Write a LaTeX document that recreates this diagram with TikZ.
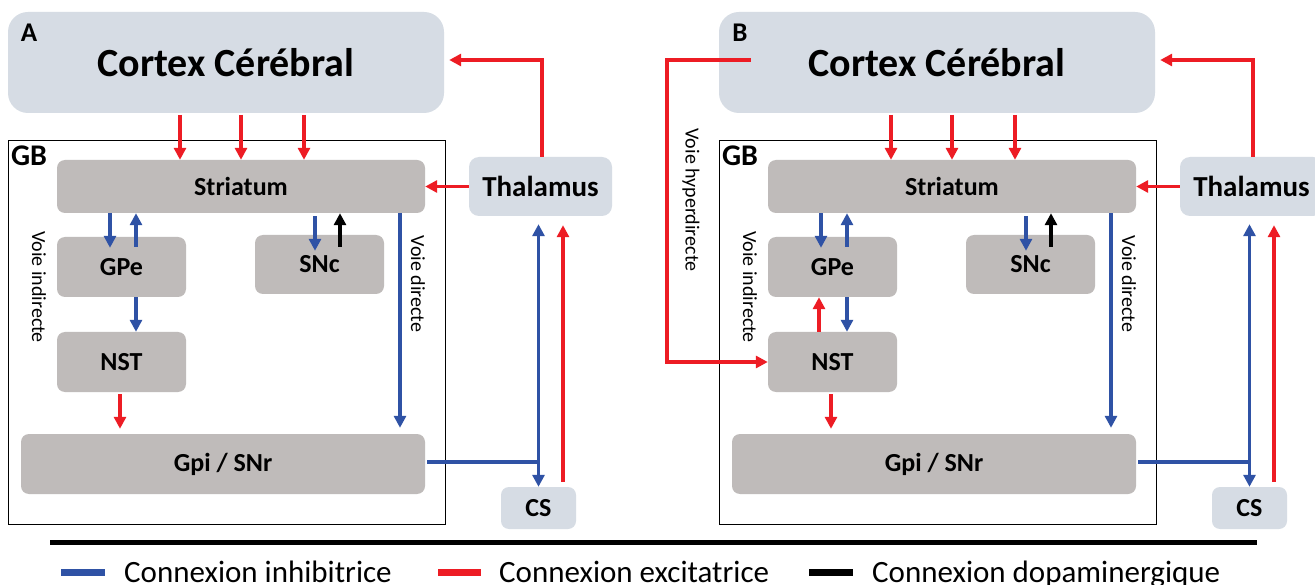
\documentclass[tikz,border=0pt]{standalone}
\usepackage{fontspec}
\setmainfont{Carlito}
\usetikzlibrary{arrows.meta,calc}
\definecolor{exred}{HTML}{ED1C24}
\definecolor{inblue}{HTML}{2F52A5}
\definecolor{lblue}{HTML}{D6DCE4}
\definecolor{gbox}{HTML}{BFBBBA}
\tikzset{
  lbbox/.style={fill=lblue, inner sep=0pt},
  grbox/.style={fill=gbox, rounded corners=8pt, inner sep=0pt, font=\bfseries\fontsize{26}{30}\selectfont},
  conn/.style={line width=3.5pt, -{Triangle[length=12pt,width=12pt]}},
  exc/.style={conn, draw=exred},
  inh/.style={conn, draw=inblue},
  dop/.style={conn, draw=black},
  vlabel/.style={rotate=-90, font=\fontsize{20}{24}\selectfont, inner sep=0pt},
  legtext/.style={anchor=base west, inner sep=0pt, font=\fontsize{31}{36}\selectfont},
}
\newcommand\bgpanel[2]{%
  \node[lbbox, rounded corners=20pt, minimum width=436pt, minimum height=101pt,
        font=\bfseries\fontsize{40}{48}\selectfont] (#1ctx) at (226,62.5) {Cortex Cérébral};
  \node[inner sep=0pt, font=\bfseries\fontsize{27}{30}\selectfont] (#1lab) at (29,33) {#2};
  \node[draw=black, line width=0.8pt, minimum width=437pt, minimum height=384pt, inner sep=0pt] (#1gb) at (226.5,332) {};
  \node[inner sep=0pt, font=\bfseries\fontsize{30}{34}\selectfont] (#1gbl) at (29,156) {GB};
  \node[grbox, minimum width=368pt, minimum height=53pt] (#1str) at (241,186.5) {Striatum};
  \node[lbbox, rounded corners=10pt, minimum width=143pt, minimum height=59pt,
        font=\bfseries\fontsize{29}{34}\selectfont] (#1thal) at (540.5,186.5) {Thalamus};
  \node[grbox, minimum width=129pt, minimum height=60pt] (#1gpe) at (121.5,267) {GPe};
  \node[grbox, minimum width=129pt, minimum height=59pt] (#1snc) at (319.5,264.5) {SNc};
  \node[grbox, minimum width=129pt, minimum height=60pt] (#1nst) at (121.5,362) {NST};
  \node[grbox, minimum width=404pt, minimum height=60pt] (#1gpi) at (223,464) {Gpi / SNr};
  \node[lbbox, rounded corners=8pt, minimum width=75pt, minimum height=42pt,
        font=\bfseries\fontsize{26}{30}\selectfont] (#1cs) at (538.5,508) {CS};
  \node[vlabel] (#1vi) at (39,287) {Voie indirecte};
  \node[vlabel] (#1vd) at (418,284) {Voie directe};
  % cortex -> striatum
  \draw[exc] ([xshift=-61pt,yshift=45pt]#1str.north) -- ([xshift=-61pt]#1str.north);
  \draw[exc] ([yshift=45pt]#1str.north) -- (#1str.north);
  \draw[exc] ([xshift=63pt,yshift=45pt]#1str.north) -- ([xshift=63pt]#1str.north);
  % thalamus -> cortex, thalamus -> striatum
  \draw[exc] ([xshift=1.5pt]#1thal.north) |- ([xshift=5pt,yshift=2.5pt]#1ctx.east);
  \draw[exc] (#1thal.west) -- (#1str.east);
  % striatum <-> GPe
  \draw[inh] ([xshift=-131pt]#1str.south) -- ([xshift=-11.5pt,yshift=-11pt]#1gpe.north);
  \draw[inh] ([xshift=14.5pt,yshift=-10pt]#1gpe.north) -- ([xshift=-105pt]#1str.south);
  % striatum <-> SNc
  \draw[inh] ([xshift=74pt,yshift=-3pt]#1str.south) -- ([xshift=-4.5pt,yshift=-16pt]#1snc.north);
  \draw[dop] ([xshift=20.5pt,yshift=-12pt]#1snc.north) -- ([xshift=99pt]#1str.south);
  % direct pathway
  \draw[inh] ([xshift=159pt]#1str.south) -- ([xshift=177pt,yshift=6pt]#1gpi.north);
  % GPe -> NST, NST -> GPi
  \draw[inh] ([xshift=14.5pt]#1gpe.south) -- ([xshift=14.5pt]#1nst.north);
  \draw[exc] ([xshift=-1.5pt,yshift=-2pt]#1nst.south) -- ([xshift=-103pt,yshift=5pt]#1gpi.north);
  % GPi -> CS / thalamus
  \coordinate (#1ge) at ([xshift=2pt,yshift=2pt]#1gpi.east);
  \coordinate (#1j) at (#1ge -| #1cs.north);
  \coordinate (#1tb) at ([xshift=-2pt,yshift=-8pt]#1thal.south);
  \draw[inh] (#1ge) -- (#1j) -- (#1cs.north);
  \draw[inh] (#1j) -- (#1tb);
  \draw[exc] ([xshift=24.5pt,yshift=5pt]#1cs.north) -- ([xshift=22.5pt,yshift=-9pt]#1thal.south);
}
\begin{document}
\begin{tikzpicture}[x=1pt,y=-1pt]
  \clip (0,0) rectangle (1315,585);
  \fill[white] (0,0) rectangle (1315,585);
  \bgpanel{a}{A}
  \begin{scope}[xshift=711pt]
    \bgpanel{b}{B}
  \end{scope}
  % panel B extras
  \draw[exc] ([xshift=-13.5pt]bnst.north) -- ([xshift=-13.5pt]bgpe.south);
  \coordinate (hyp) at (667,200);
  \draw[exc] ([xshift=32pt,yshift=2.5pt]bctx.west) -| (hyp) |- (bnst.west);
  \node[vlabel] (hyplab) at (691,200) {Voie hyperdirecte};
  % legend
  \coordinate (lg1) at (50,542);
  \coordinate (lg2) at (1257,542);
  \draw[line width=5pt] (lg1) -- (lg2);
  \coordinate (s1a) at (61,572);  \coordinate (s1b) at (105,572);
  \coordinate (s2a) at (438,572); \coordinate (s2b) at (481,572);
  \coordinate (s3a) at (809,572); \coordinate (s3b) at (853,572);
  \draw[line width=7pt, inblue] (s1a) -- (s1b);
  \draw[line width=7pt, exred] (s2a) -- (s2b);
  \draw[line width=7pt, black] (s3a) -- (s3b);
  \node[legtext] (t1) at (124,582) {Connexion inhibitrice};
  \node[legtext] (t2) at (499,582) {Connexion excitatrice};
  \node[legtext] (t3) at (872,582) {Connexion dopaminergique};
\end{tikzpicture}
\end{document}
